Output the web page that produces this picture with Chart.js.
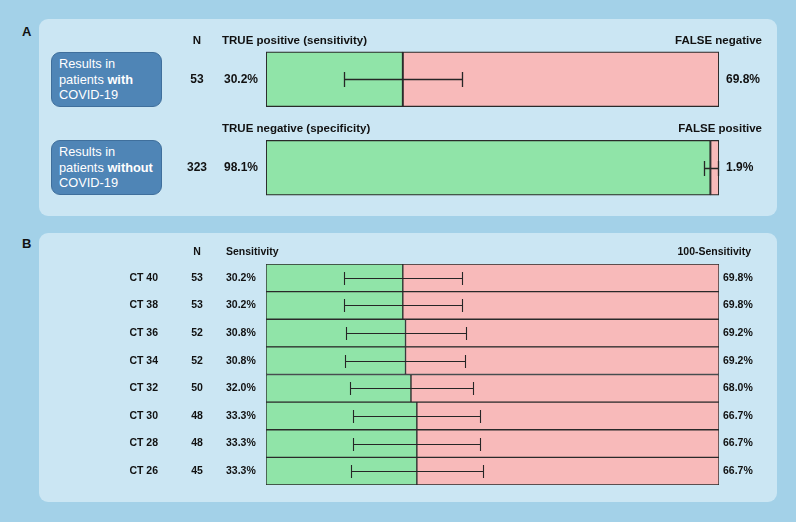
<!DOCTYPE html>
<html>
<head>
<meta charset="utf-8">
<script src="https://cdn.jsdelivr.net/npm/chart.js@4.4.1/dist/chart.umd.min.js"></script>
<style>
body { margin:0; background:#a3d1e8; width:796px; height:522px; overflow:hidden; position:relative; font-family:"Liberation Sans", Arial, sans-serif; }
.panel { position:absolute; left:39px; width:738px; background:#cbe6f3; border-radius:9px; }
.letter { position:absolute; left:22px; font-weight:bold; font-size:13px; color:#111; }
.box { position:absolute; left:51px; width:111px; height:55px; box-sizing:border-box; background:#4f85b6; border:1px solid #3f6f9c; border-radius:9px; color:#fff; font-size:12.8px; line-height:15.5px; padding-left:7px; display:flex; align-items:center; }
canvas { position:absolute; left:0; }
</style>
</head>
<body>
<div class="panel" style="top:19px;height:197px"></div>
<div class="panel" style="top:233px;height:269px"></div>
<div class="letter" style="top:24px">A</div>
<div class="letter" style="top:236px">B</div>
<div class="box" style="top:52px"><div>Results in<br>patients <b>with</b><br>COVID-19</div></div>
<div class="box" style="top:140px"><div>Results in<br>patients <b>without</b><br>COVID-19</div></div>
<canvas id="chartA" width="796" height="220" style="top:0"></canvas>
<canvas id="chartB" width="796" height="302" style="top:220px"></canvas>
<script>
// panel A: overall results
const groupsA = ['with COVID-19', 'without COVID-19'];
const nA = [53, 323];
const correctA = [30.2, 98.1];
const wrongA = [69.8, 1.9];
const ciLowA = [17.2, 96.6];
const ciHighA = [43.3, 99.8];
const headLeftA = ['TRUE positive (sensitivity)', 'TRUE negative (specificity)'];
const headRightA = ['FALSE negative', 'FALSE positive'];

// panel B: by CT threshold
const ctLabels = ['CT 40', 'CT 38', 'CT 36', 'CT 34', 'CT 32', 'CT 30', 'CT 28', 'CT 26'];
const nB = [53, 53, 52, 52, 50, 48, 48, 45];
const sensB = [30.2, 30.2, 30.8, 30.8, 32.0, 33.3, 33.3, 33.3];
const restB = [69.8, 69.8, 69.2, 69.2, 68.0, 66.7, 66.7, 66.7];
const ciLowB = [17.2, 17.2, 17.7, 17.5, 18.5, 19.2, 19.3, 18.8];
const ciHighB = [43.2, 43.2, 44.1, 43.9, 45.7, 47.2, 47.3, 47.8];

const GREEN = '#90e4a8';
const PINK = '#f8baba';
const EDGE = '#2a2a2a';
const INK = '#111';
const FONT = '"Liberation Sans", Arial, sans-serif';

const errorBars = {
    id: 'errorBars',
    afterDatasetsDraw(chart, args, opts) {
        const ctx = chart.ctx;
        const x = chart.scales.x, y = chart.scales.y;
        ctx.save();
        ctx.strokeStyle = '#262626';
        ctx.lineWidth = opts.width;
        opts.low.forEach((lo, i) => {
            const yc = Math.round(y.getPixelForValue(i)) + 0.5;
            const x1 = Math.round(x.getPixelForValue(lo)) + 0.5;
            const x2 = Math.round(x.getPixelForValue(opts.high[i])) + 0.5;
            ctx.beginPath();
            ctx.moveTo(x1, yc); ctx.lineTo(x2, yc);
            ctx.moveTo(x1, yc - opts.cap); ctx.lineTo(x1, yc + opts.cap);
            ctx.moveTo(x2, yc - opts.cap); ctx.lineTo(x2, yc + opts.cap);
            ctx.stroke();
        });
        ctx.restore();
    }
};

function txt(ctx, s, x, y, align) {
    ctx.textAlign = align;
    ctx.fillText(s, x, y);
}

const labelsA = {
    id: 'labelsA',
    afterDraw(chart) {
        const ctx = chart.ctx, y = chart.scales.y, area = chart.chartArea;
        ctx.save();
        ctx.fillStyle = INK;
        ctx.textBaseline = 'middle';
        groupsA.forEach((g, i) => {
            const yc = y.getPixelForValue(i);
            const top = yc - 27.5;
            ctx.font = 'bold 11.5px ' + FONT;
            if (i === 0) txt(ctx, 'N', 197, top - 11, 'center');
            txt(ctx, headLeftA[i], 222, top - 11, 'left');
            txt(ctx, headRightA[i], area.right + 43, top - 11, 'right');
            ctx.font = 'bold 12px ' + FONT;
            txt(ctx, String(nA[i]), 197, yc, 'center');
            txt(ctx, correctA[i].toFixed(1) + '%', 224, yc, 'left');
            txt(ctx, wrongA[i].toFixed(1) + '%', area.right + 7, yc, 'left');
        });
        ctx.restore();
    }
};

const labelsB = {
    id: 'labelsB',
    afterDraw(chart) {
        const ctx = chart.ctx, y = chart.scales.y, area = chart.chartArea;
        ctx.save();
        ctx.fillStyle = INK;
        ctx.textBaseline = 'middle';
        ctx.font = 'bold 10.5px ' + FONT;
        const hy = area.top - 12;
        txt(ctx, 'N', 197, hy, 'center');
        txt(ctx, 'Sensitivity', 226, hy, 'left');
        txt(ctx, '100-Sensitivity', area.right + 32, hy, 'right');
        ctLabels.forEach((c, i) => {
            const yc = y.getPixelForValue(i);
            txt(ctx, c, 158, yc, 'right');
            txt(ctx, String(nB[i]), 197, yc, 'center');
            txt(ctx, sensB[i].toFixed(1) + '%', 226, yc, 'left');
            txt(ctx, restB[i].toFixed(1) + '%', area.right + 4, yc, 'left');
        });
        ctx.restore();
    }
};

function barOptions(padding, errOpts) {
    return {
        indexAxis: 'y',
        responsive: false,
        animation: false,
        devicePixelRatio: 1,
        layout: { padding: padding },
        scales: {
            x: { stacked: true, min: 0, max: 100, display: false },
            y: { stacked: true, display: false }
        },
        plugins: {
            legend: { display: false },
            tooltip: { enabled: false },
            errorBars: errOpts
        }
    };
}

function createChart(id, config) {
    try {
        return new Chart(document.getElementById(id), config);
    } catch (e) {
        console.log(e);
    }
}

createChart('chartA', {
    type: 'bar',
    data: {
        labels: groupsA,
        datasets: [
            { data: correctA, backgroundColor: GREEN, borderColor: EDGE, borderWidth: 1.3, borderSkipped: false, barThickness: 55 },
            { data: wrongA, backgroundColor: PINK, borderColor: EDGE, borderWidth: 1.3, borderSkipped: false, barThickness: 55 }
        ]
    },
    options: barOptions({ left: 266, right: 77, top: 35, bottom: 8 }, { low: ciLowA, high: ciHighA, cap: 7.5, width: 1.3 }),
    plugins: [errorBars, labelsA]
});

createChart('chartB', {
    type: 'bar',
    data: {
        labels: ctLabels,
        datasets: [
            { data: sensB, backgroundColor: GREEN, borderColor: EDGE, borderWidth: 1, borderSkipped: false, barPercentage: 1, categoryPercentage: 1 },
            { data: restB, backgroundColor: PINK, borderColor: EDGE, borderWidth: 1, borderSkipped: false, barPercentage: 1, categoryPercentage: 1 }
        ]
    },
    options: barOptions({ left: 266, right: 77, top: 44, bottom: 37 }, { low: ciLowB, high: ciHighB, cap: 6.5, width: 1.1 }),
    plugins: [errorBars, labelsB]
});
</script>
</body>
</html>
